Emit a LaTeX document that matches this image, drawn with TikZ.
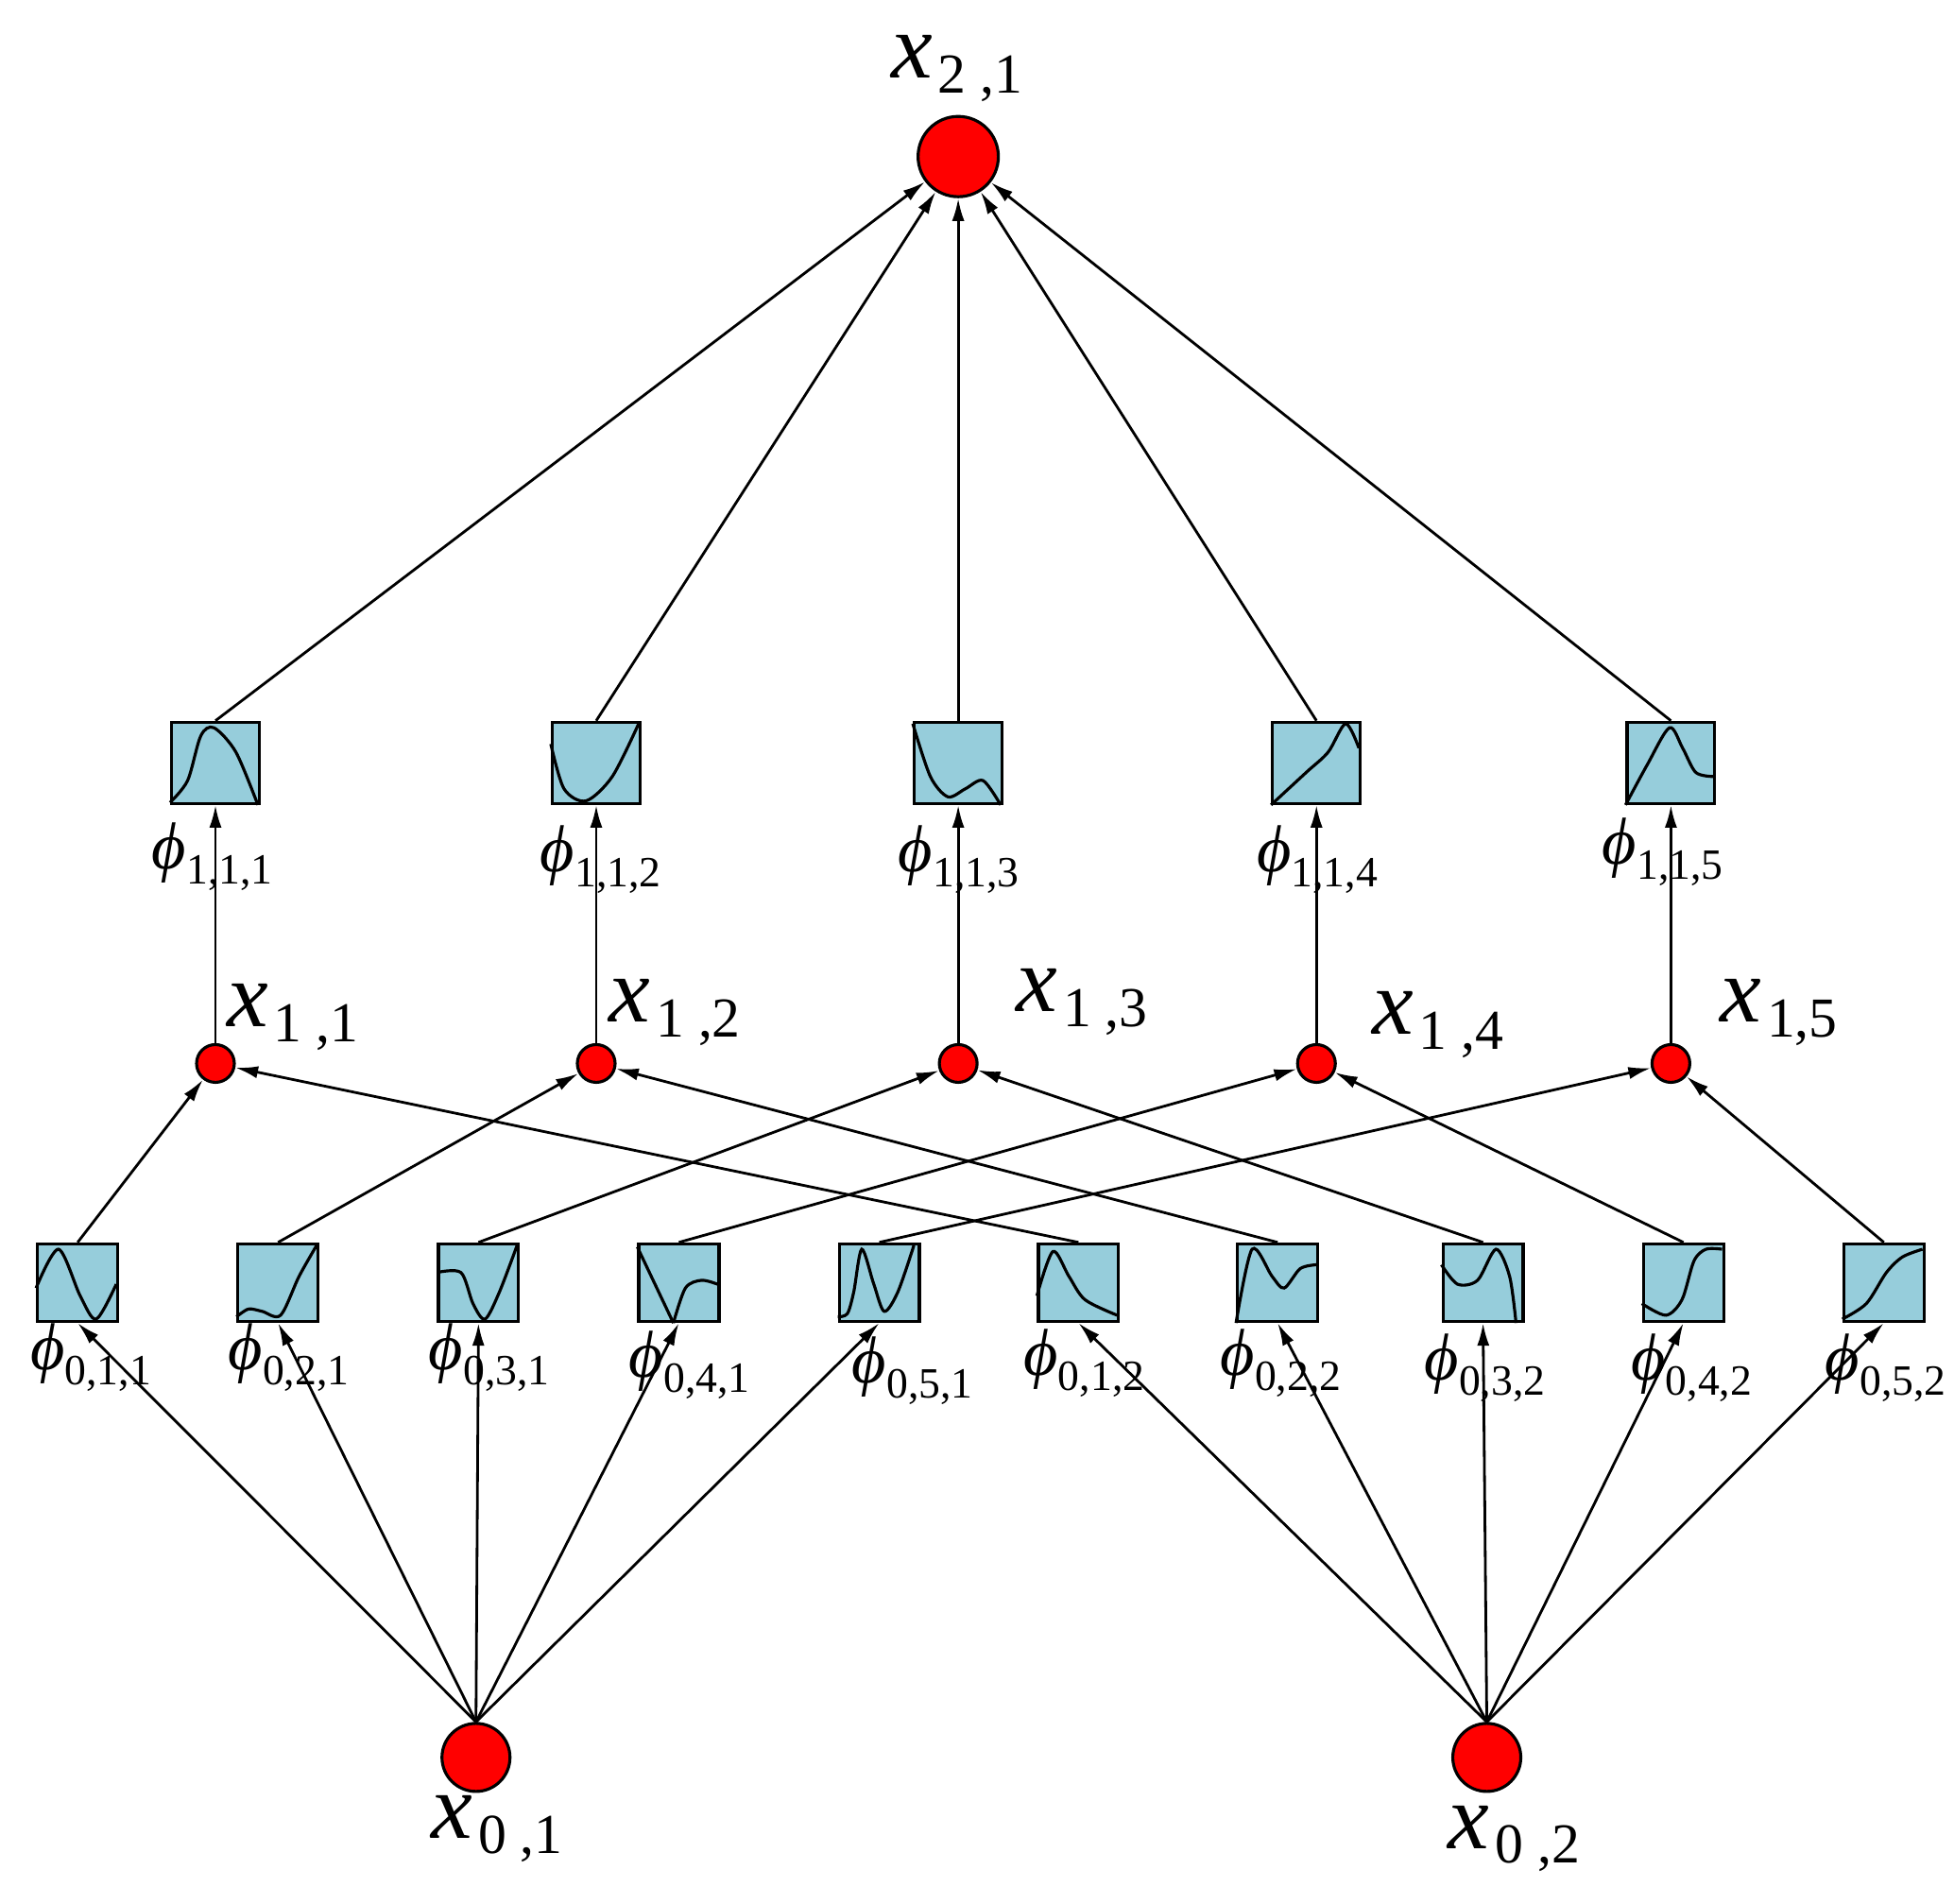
\documentclass[tikz,border=0pt]{standalone}
\usepackage{fontspec}
\setmainfont{Liberation Serif}
\usetikzlibrary{arrows.meta}
\newcommand{\xlab}[1]{{\fontsize{28pt}{30pt}\selectfont\itshape x}\,\raisebox{-0.45em}{\fontsize{17pt}{18pt}\selectfont #1}}
\newcommand{\plab}[1]{{\fontsize{20pt}{22pt}\selectfont\itshape ϕ}\raisebox{-0.45em}{\fontsize{13pt}{14pt}\selectfont #1}}
\begin{document}
\begin{tikzpicture}[x=0.01326cm,y=-0.01326cm,
  bx/.style={draw,line width=0.9pt,fill={rgb,255:red,150;green,205;blue,219},minimum width=0.849cm,minimum height=0.822cm,inner sep=0},
  mbx/.style={bx,minimum width=0.93cm,minimum height=0.86cm},
  big/.style={circle,draw,line width=0.9pt,fill=red,minimum size=0.85cm,inner sep=0},
  sml/.style={circle,draw,line width=0.9pt,fill=red,minimum size=0.4cm,inner sep=0},
  ar/.style={line width=0.8pt,-{Latex[length=2.4mm,width=1.3mm]}},
  cv/.style={line width=0.9pt}]
\useasboundingbox (0,0) rectangle (1560,1520);
% nodes
\node[big] (t) at (765,125) {};
\node[anchor=west] at (702,55) {\xlab{2 ,1}};
\node[big,minimum size=0.72cm] (a1) at (380,1403) {};
\node[big,minimum size=0.72cm] (a2) at (1187,1403) {};
\node[anchor=west] at (335,1460) {\xlab{0 ,1}};
\node[anchor=west] at (1147,1468) {\xlab{0 ,2}};
\foreach \i/\x in {1/172,2/476,3/765,4/1051,5/1334}{
  \node[mbx] (m\i) at (\x,609) {};
  \node[sml] (h\i) at (\x,849) {};
}
\node[anchor=west] at (112,684) {\plab{1,1,1}};
\node[anchor=west] at (422,686) {\plab{1,1,2}};
\node[anchor=west] at (708,686) {\plab{1,1,3}};
\node[anchor=west] at (994,686) {\plab{1,1,4}};
\node[anchor=west] at (1270,680) {\plab{1,1,5}};
\node[anchor=west] at (172,812) {\xlab{1 ,1}};
\node[anchor=west] at (477,808) {\xlab{1 ,2}};
\node[anchor=west] at (802,800) {\xlab{1 ,3}};
\node[anchor=west] at (1086,818) {\xlab{1 ,4}};
\node[anchor=west] at (1364,808) {\xlab{1,5}};
\foreach \i/\x in {1/62,2/222,3/382,4/542,5/702,6/861,7/1020,8/1184,9/1344,10/1504}{
  \node[bx] (b\i) at (\x,1024) {};
}
\node[anchor=west] at (15,1084) {\plab{0,1,1}};
\node[anchor=west] at (173,1084) {\plab{0,2,1}};
\node[anchor=west] at (333,1084) {\plab{0,3,1}};
\node[anchor=west] at (493,1090) {\plab{0,4,1}};
\node[anchor=west] at (671,1094) {\plab{0,5,1}};
\node[anchor=west] at (808,1088) {\plab{0,1,2}};
\node[anchor=west] at (965,1088) {\plab{0,2,2}};
\node[anchor=west] at (1128,1092) {\plab{0,3,2}};
\node[anchor=west] at (1293,1092) {\plab{0,4,2}};
\node[anchor=west] at (1448,1092) {\plab{0,5,2}};
% connectors
\foreach \i in {1,...,5}{
  \draw[ar] (m\i.north) -- (t);
  \draw[ar] (h\i) -- (m\i.south);
}
\foreach \i in {1,...,5}{\draw[ar] (a1.north) -- (b\i.south);}
\foreach \i in {6,...,10}{\draw[ar] (a2.north) -- (b\i.south);}
\foreach \i/\j in {1/1,2/2,3/3,4/4,5/5}{\draw[ar] (b\i.north) -- (h\j);}
\foreach \i/\j in {6/1,7/2,8/3,9/4,10/5}{\draw[ar] (b\i.north) -- (h\j);}
% curves
\begin{scope}[shift={(b1.south west)},x=0.849cm,y=0.822cm]
 \draw[cv] plot[smooth] coordinates {(0,0.45)(0.28,0.95)(0.55,0.35)(0.75,0.05)(1,0.5)};\end{scope}
\begin{scope}[shift={(b2.south west)},x=0.849cm,y=0.822cm]
 \draw[cv] plot[smooth] coordinates {(0,0.08)(0.15,0.18)(0.32,0.15)(0.55,0.1)(0.78,0.6)(1,1)};\end{scope}
\begin{scope}[shift={(b3.south west)},x=0.849cm,y=0.822cm]
 \draw[cv] plot[smooth] coordinates {(0,0.65)(0.3,0.65)(0.45,0.25)(0.6,0.05)(0.78,0.4)(1,1)};\end{scope}
\begin{scope}[shift={(b4.south west)},x=0.849cm,y=0.822cm]
 \draw[cv] (0,0.98) -- (0.45,0);
 \draw[cv] plot[smooth] coordinates {(0.45,0)(0.6,0.45)(0.8,0.55)(1,0.5)};\end{scope}
\begin{scope}[shift={(b5.south west)},x=0.849cm,y=0.822cm]
 \draw[cv] plot[smooth] coordinates {(0,0.08)(0.12,0.12)(0.2,0.4)(0.3,0.95)(0.45,0.5)(0.58,0.15)(0.75,0.4)(0.95,1)};\end{scope}
\begin{scope}[shift={(b6.south west)},x=0.849cm,y=0.822cm]
 \draw[cv] plot[smooth] coordinates {(0,0.35)(0.2,0.92)(0.4,0.6)(0.6,0.3)(1,0.1)};\end{scope}
\begin{scope}[shift={(b7.south west)},x=0.849cm,y=0.822cm]
 \draw[cv] plot[smooth] coordinates {(0,0)(0.2,0.95)(0.45,0.6)(0.6,0.45)(0.8,0.7)(1,0.75)};\end{scope}
\begin{scope}[shift={(b8.south west)},x=0.849cm,y=0.822cm]
 \draw[cv] plot[smooth] coordinates {(0,0.75)(0.2,0.5)(0.45,0.55)(0.68,0.95)(0.85,0.6)(0.93,0)};\end{scope}
\begin{scope}[shift={(b9.south west)},x=0.849cm,y=0.822cm]
 \draw[cv] plot[smooth] coordinates {(0,0.25)(0.3,0.1)(0.5,0.3)(0.65,0.8)(0.8,0.95)(1,0.95)};\end{scope}
\begin{scope}[shift={(b10.south west)},x=0.849cm,y=0.822cm]
 \draw[cv] plot[smooth] coordinates {(0,0.05)(0.3,0.25)(0.55,0.65)(0.75,0.85)(1,0.95)};\end{scope}
\begin{scope}[shift={(m1.south west)},x=0.93cm,y=0.86cm]
 \draw[cv] plot[smooth] coordinates {(0,0.03)(0.2,0.3)(0.35,0.85)(0.5,0.95)(0.75,0.65)(1,0)};\end{scope}
\begin{scope}[shift={(m2.south west)},x=0.93cm,y=0.86cm]
 \draw[cv] plot[smooth] coordinates {(0,0.75)(0.15,0.2)(0.4,0.05)(0.7,0.35)(1,1)};\end{scope}
\begin{scope}[shift={(m3.south west)},x=0.93cm,y=0.86cm]
 \draw[cv] plot[smooth] coordinates {(0,1)(0.2,0.35)(0.4,0.1)(0.6,0.2)(0.8,0.3)(1,0)};\end{scope}
\begin{scope}[shift={(m4.south west)},x=0.93cm,y=0.86cm]
 \draw[cv] plot[smooth] coordinates {(0,0)(0.4,0.4)(0.65,0.65)(0.85,1)(1,0.7)};\end{scope}
\begin{scope}[shift={(m5.south west)},x=0.93cm,y=0.86cm]
 \draw[cv] plot[smooth] coordinates {(0,0)(0.25,0.5)(0.5,0.95)(0.65,0.7)(0.8,0.4)(1,0.35)};\end{scope}
\end{tikzpicture}
\end{document}
